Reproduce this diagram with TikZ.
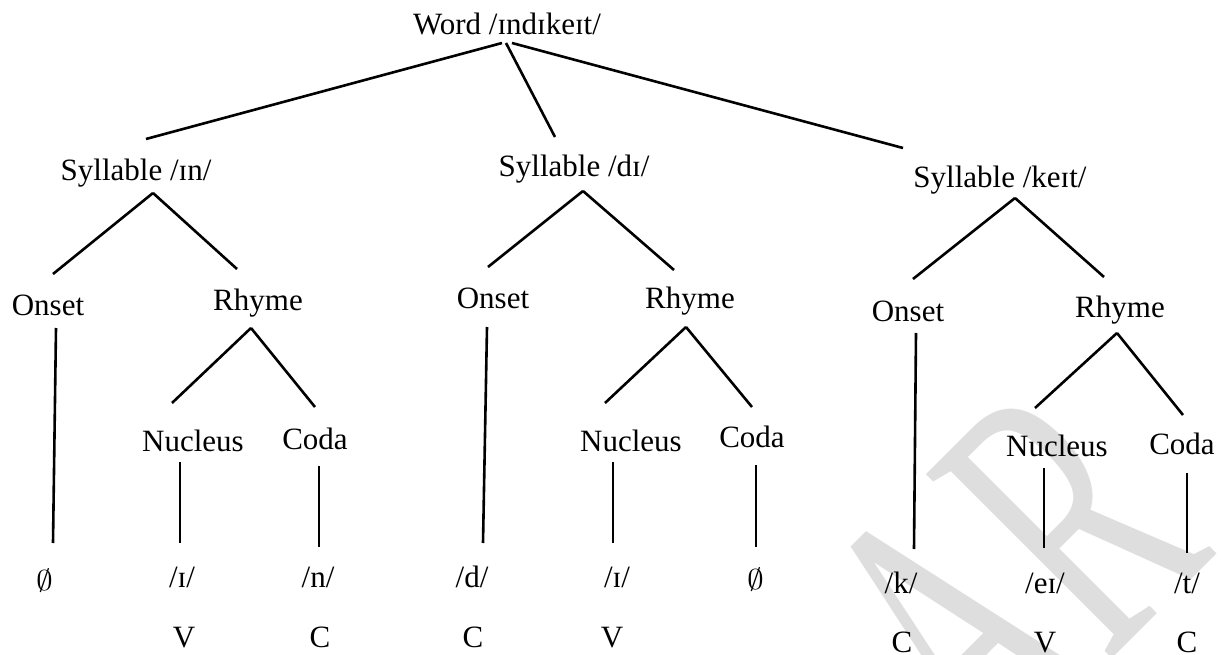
\documentclass[tikz,border=0pt]{standalone}
\usepackage{fontspec}
\usepackage{graphicx}
\setmainfont{Liberation Serif}
\usetikzlibrary{calc}
% a branch runs from a point near one label's baseline to a point near another's
\newcommand\branch[4]{\draw[edge] ($(#1.base)+(#2)$) -- ($(#3.base)+(#4)$);}
% empty-set sign at the size of the labels
\newcommand\nullseg{\scalebox{1.35}[1.15]{$\emptyset$}}
\begin{document}
\begin{tikzpicture}[x=1pt,y=-1pt,
  lbl/.style={anchor=base, inner sep=0pt, font=\fontsize{31}{37}\selectfont},
  edge/.style={line width=2.6pt, black},
  faintletters/.style={text=black!13, font=\fontsize{235}{235}\selectfont, inner sep=0pt}]
\fill[white] (0,0) rectangle (1226,655);
\useasboundingbox (0,0) rectangle (1226,655);

% faint background lettering, tall and set on the diagonal
\begin{scope}
  \clip (0,0) rectangle (1226,655);
  \node[faintletters, anchor=base west, rotate=45, yscale=1.7] (wm) at (986,785) {AR};
\end{scope}

% word and syllables
\node[lbl] (w)  at (507,35)  {Word /ɪndɪkeɪt/};
\node[lbl] (s1) at (136,181) {Syllable /ɪn/};
\node[lbl] (s2) at (574,177) {Syllable /dɪ/};
\node[lbl] (s3) at (1000,188) {Syllable /keɪt/};

% onsets and rhymes
\node[lbl] (o1) at (48,315)   {Onset};
\node[lbl] (r1) at (258,310)  {Rhyme};
\node[lbl] (o2) at (493,308)  {Onset};
\node[lbl] (r2) at (690,308)  {Rhyme};
\node[lbl] (o3) at (908,321)  {Onset};
\node[lbl] (r3) at (1120,317) {Rhyme};

% nuclei and codas
\node[lbl] (n1) at (193,451)  {Nucleus};
\node[lbl] (c1) at (315,449)  {Coda};
\node[lbl] (n2) at (631,451)  {Nucleus};
\node[lbl] (c2) at (752,447)  {Coda};
\node[lbl] (n3) at (1057,456) {Nucleus};
\node[lbl] (c3) at (1182,454) {Coda};

% segments
\node[lbl] (x1) at (45,590)   {\nullseg};
\node[lbl] (p1) at (182,587)  {/ɪ/};
\node[lbl] (p2) at (318,587)  {/n/};
\node[lbl] (p3) at (472,587)  {/d/};
\node[lbl] (p4) at (617,587)  {/ɪ/};
\node[lbl] (x2) at (756,589)  {\nullseg};
\node[lbl] (p5) at (901,593)  {/k/};
\node[lbl] (p6) at (1045,593) {/eɪ/};
\node[lbl] (p7) at (1187,593) {/t/};

% CV tier
\node[lbl] (k1) at (184,647)  {V};
\node[lbl] (k2) at (320,647)  {C};
\node[lbl] (k3) at (473,647)  {C};
\node[lbl] (k4) at (612,647)  {V};
\node[lbl] (k5) at (902,652)  {C};
\node[lbl] (k6) at (1045,652) {V};
\node[lbl] (k7) at (1187,652) {C};

% word to syllables
\branch{w}{-5,8}{s1}{10,-42}
\branch{w}{-1,8}{s2}{-19,-40}
\branch{w}{5,8}{s3}{-97,-40}

% syllables to onset and rhyme
\branch{s1}{17,12}{o1}{5,-41}
\branch{s1}{17,12}{r1}{-21,-41}
\branch{s2}{9,14}{o2}{-5,-41}
\branch{s2}{9,14}{r2}{-16,-38}
\branch{s3}{15,10}{o3}{5,-42}
\branch{s3}{15,10}{r3}{-16,-40}

% rhymes to nucleus and coda
\branch{r1}{-7,18}{n1}{-21,-48}
\branch{r1}{-7,18}{c1}{0,-42}
\branch{r2}{-4,19}{n2}{-26,-48}
\branch{r2}{-4,19}{c2}{0,-40}
\branch{r3}{-3,16}{n3}{-22,-48}
\branch{r3}{-3,16}{c3}{1,-39}

% down to the segments
\branch{o1}{8,13}{x1}{8,-47}
\branch{n1}{-13,11}{p1}{-2,-44}
\branch{c1}{4,17}{p2}{1,-40}
\branch{o2}{-6,19}{p3}{11,-44}
\branch{n2}{-18,11}{p4}{-4,-44}
\branch{c2}{4,18}{x2}{0,-42}
\branch{o3}{8,12}{p5}{13,-44}
\branch{n3}{-13,12}{p6}{-1,-45}
\branch{c3}{5,19}{p7}{0,-40}
\end{tikzpicture}
\end{document}
